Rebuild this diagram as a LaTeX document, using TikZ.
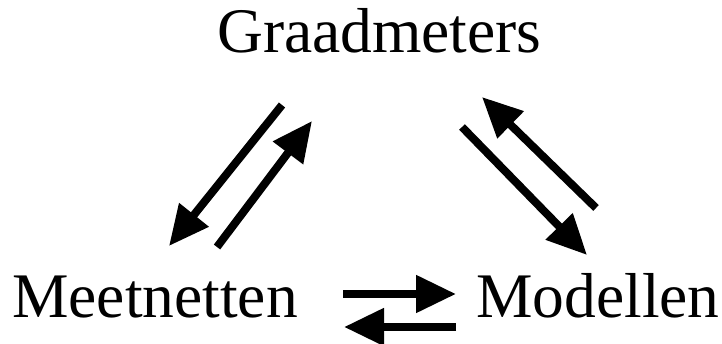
\documentclass[tikz,border=0pt]{standalone}
\usepackage{fontspec}
\setmainfont{Liberation Serif}
\usetikzlibrary{arrows.meta}
\begin{document}
\begin{tikzpicture}[x=1pt,y=1pt,
  lbl/.style={inner sep=0pt, anchor=base west, font=\fontsize{63.5}{63.5}\selectfont},
  arr/.style={line width=8pt, -{Triangle[length=40pt,width=36pt]}}]
\useasboundingbox (0,0) rectangle (722,343);
\node[lbl] (g) at (217,290) {Graadmeters};
\node[lbl] (m) at (12,26) {Meetnetten};
\node[lbl] (d) at (476,26) {Modellen};
\coordinate (a1s) at (282,238);
\coordinate (a1e) at (169,97);
\coordinate (a2s) at (217,96);
\coordinate (a2e) at (312,222);
\coordinate (a3s) at (596,135);
\coordinate (a3e) at (482,246);
\coordinate (a4s) at (462,216);
\coordinate (a4e) at (587,88);
\coordinate (a5s) at (343,49);
\coordinate (a5e) at (456,49);
\coordinate (a6s) at (456,16);
\coordinate (a6e) at (344,16);
\draw[arr] (a1s) -- (a1e);
\draw[arr] (a2s) -- (a2e);
\draw[arr] (a3s) -- (a3e);
\draw[arr] (a4s) -- (a4e);
\draw[arr] (a5s) -- (a5e);
\draw[arr] (a6s) -- (a6e);
\end{tikzpicture}
\end{document}
